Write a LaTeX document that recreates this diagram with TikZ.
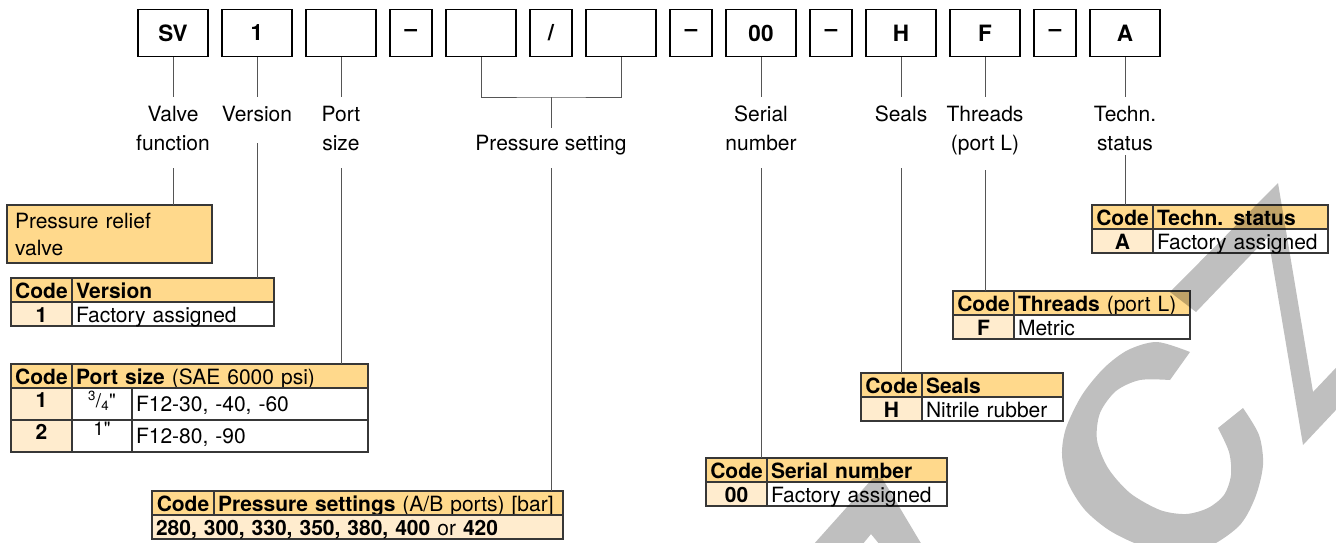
\documentclass[tikz,border=0pt]{standalone}
\usepackage{fontspec}
\setmainfont{TeX Gyre Heros}
\newfontfamily\plainheros{TeX Gyre Heros}[Ligatures=TeXOff]
\definecolor{headfill}{RGB}{255,217,140}
\definecolor{codefill}{RGB}{255,236,206}
\definecolor{rulegray}{RGB}{55,55,55}
\definecolor{linegray}{RGB}{85,85,85}
\newcommand{\keyfont}{\fontsize{22.5}{26}\selectfont\bfseries}
\newcommand{\labfont}{\fontsize{21}{29}\selectfont}
\newcommand{\cellfont}{\fontsize{21}{25}\selectfont}
\newcommand{\inch}{{\plainheros"}}

\begin{document}
\begin{tikzpicture}[x=1pt, y=-1pt,
  keybox/.style={draw, line width=1.4pt, minimum width=70pt, minimum height=47pt, inner sep=0pt, font=\keyfont},
  sepbox/.style={keybox, minimum width=42pt},
  lab/.style={anchor=north, align=center, inner sep=0pt, font=\labfont},
  conn/.style={draw=linegray, line width=1pt},
  cell/.style={draw=rulegray, line width=1.5pt, anchor=north west, outer sep=0pt, inner xsep=4pt, inner ysep=0pt,
    minimum height=24pt, text height=19pt, text depth=3pt, font=\cellfont},
  codehead/.style={cell, fill=headfill, minimum width=61pt, font=\cellfont\bfseries},
  headcell/.style={cell, fill=headfill, text width=#1, align=left},
  codecell/.style={cell, fill=codefill, minimum width=61pt, font=\cellfont\bfseries},
  bodycell/.style={cell, fill=white, text width=#1, align=left},
  tallrow/.style={minimum height=32pt},
  watermark/.style={fill=black, opacity=0.25}]
\useasboundingbox (0,0) rectangle (1336,542);

% type code boxes
\node[keybox] (sv) at (173,33) {SV};
\node[keybox] (vers) at (257,33) {1};
\node[keybox] (size) at (341,33) {};
\node[sepbox] (dash1) at (411,33) {\textendash};
\node[keybox] (pa) at (481,33) {};
\node[sepbox] (slash) at (551,33) {/};
\node[keybox] (pb) at (621,33) {};
\node[sepbox] (dash2) at (691,33) {\textendash};
\node[keybox] (ser) at (761,33) {00};
\node[sepbox] (dash3) at (831,33) {\textendash};
\node[keybox] (seal) at (901,33) {H};
\node[keybox] (thr) at (985,33) {F};
\node[sepbox] (dash4) at (1055,33) {\textendash};
\node[keybox] (tec) at (1125,33) {A};

% labels
\node[lab, text height=53pt, text depth=18pt] (valve) at (173,97) {Valve\\function};
\node[lab, text height=24pt, text depth=22pt] (version) at (257,97) {Version};
\node[lab, text height=53pt, text depth=18pt] (port) at (341,97) {Port\\size};
\node[lab, text height=22pt, text depth=18pt] (press) at (551,128) {Pressure setting};
\node[lab, text height=53pt, text depth=18pt] (serial) at (761,97) {Serial\\number};
\node[lab, text height=24pt, text depth=47pt] (seals) at (901,97) {Seals};
\node[lab, text height=53pt, text depth=20pt] (threads) at (985,97) {Threads\\(port L)};
\node[lab, text height=53pt, text depth=5pt] (techn) at (1125,97) {Techn.\\status};

\coordinate (pmid) at (551,97);
\draw[conn] (sv) -- (valve);
\draw[conn] (vers) -- (version);
\draw[conn] (size) -- (port);
\draw[conn] (pa) |- (pmid) -| (pb);
\draw[conn] (pmid) -- (press);
\draw[conn] (ser) -- (serial);
\draw[conn] (seal) -- (seals);
\draw[conn] (thr) -- (threads);
\draw[conn] (tec) -- (techn);

% valve function
\node[draw=rulegray, line width=1.5pt, fill=headfill, anchor=north west, outer sep=0pt, minimum width=205pt,
  minimum height=58pt, inner xsep=8pt, inner ysep=0pt, text width=189pt, align=left,
  text height=23pt, text depth=35pt, font=\fontsize{21}{27}\selectfont] (relief) at (7,205) {Pressure relief\\valve};

% version
\node[codehead] (tver-code) at (11,278) {Code};
\node[headcell=194pt] (tver-head) at (72,278) {\textbf{Version}};
\node[codecell] (tver-key) at (11,302) {1};
\node[bodycell=194pt] (tver-desc) at (72,302) {Factory assigned};

% port size
\node[codehead] (tsize-code) at (11,364) {Code};
\node[headcell=288pt] (tsize-head) at (72,364) {\textbf{Port size} (SAE 6000 psi)};
\node[codecell, tallrow, text height=16pt, text depth=10pt] (tsize-k1) at (11,388) {1};
\node[bodycell=52pt, align=center, tallrow, text height=16pt, text depth=10pt, font=\fontsize{19}{22}\selectfont]
  (tsize-i1) at (72,388) {\textsuperscript{3}/\textsubscript{4}\inch};
\node[bodycell=228pt, tallrow, text height=18pt, text depth=3pt] (tsize-f1) at (132,388) {F12-30, -40, -60};
\node[codecell, tallrow, text height=16pt, text depth=10pt] (tsize-k2) at (11,420) {2};
\node[bodycell=52pt, align=center, tallrow, text height=10pt, text depth=12pt, font=\fontsize{19}{22}\selectfont]
  (tsize-i2) at (72,420) {1\inch};
\node[bodycell=228pt, tallrow, text height=18pt, text depth=3pt] (tsize-f2) at (132,420) {F12-80, -90};

% pressure settings
\node[codehead, minimum width=62pt] (tpres-code) at (152,491) {Code};
\node[headcell=341pt] (tpres-head) at (214,491) {\textbf{Pressure settings} (A/B ports) [bar]};
\node[codecell, text width=403pt, align=left, font=\cellfont] (tpres-vals) at (152,515)
  {\textbf{280, 300, 330, 350, 380, 400} or \textbf{420}};

% serial number
\node[codehead] (tser-code) at (706,458) {Code};
\node[headcell=172pt] (tser-head) at (767,458) {\textbf{Serial number}};
\node[codecell] (tser-key) at (706,482) {00};
\node[bodycell=172pt] (tser-desc) at (767,482) {Factory assigned};

% seals
\node[codehead] (tseal-code) at (861,373) {Code};
\node[headcell=133pt] (tseal-head) at (922,373) {\textbf{Seals}};
\node[codecell] (tseal-key) at (861,397) {H};
\node[bodycell=133pt] (tseal-desc) at (922,397) {Nitrile rubber};

% threads
\node[codehead] (tthr-code) at (953,291) {Code};
\node[headcell=168pt] (tthr-head) at (1014,291) {\textbf{Threads} (port L)};
\node[codecell] (tthr-key) at (953,315) {F};
\node[bodycell=168pt] (tthr-desc) at (1014,315) {Metric};

% techn. status
\node[codehead] (ttec-code) at (1092,205) {Code};
\node[headcell=167pt] (ttec-head) at (1153,205) {\textbf{Techn. status}};
\node[codecell] (ttec-key) at (1092,229) {A};
\node[bodycell=167pt] (ttec-desc) at (1153,229) {Factory assigned};

\draw[conn] (valve) -- (valve |- relief.north);
\draw[conn] (version) -- (version |- tver-head.north);
\draw[conn] (port) -- (port |- tsize-head.north);
\draw[conn] (press) -- (press |- tpres-head.north);
\draw[conn] (serial) -- (serial |- tser-code.north);
\draw[conn] (seals) -- (seals |- tseal-code.north);
\draw[conn] (threads) -- (threads |- tthr-code.north);
\draw[conn] (techn) -- (techn |- ttec-code.north);

% watermark
\begin{scope}
\clip (0,0) rectangle (1336,542);
\fill[watermark] (873,478) -- (882,478) -- (922,545) -- (880,545) -- (871,534) -- (862,545) -- (813,545) -- cycle;
\fill[watermark] (1190,352) -- plot[smooth] coordinates {(1190,352) (1157,342) (1128,350) (1104,368) (1082,395)
  (1066,428) (1062,455) (1068,483) (1085,510) (1112,532) (1150,548) (1200,550) (1238,527) (1255,498)
  (1263,465) (1259,435) (1243,408)}
  -- plot[smooth] coordinates {(1218,428) (1229,452) (1231,475) (1224,495) (1208,508) (1186,514)
  (1160,510) (1130,493) (1108,468) (1097,440) (1100,413) (1116,391) (1140,380) (1170,380)} -- cycle;
\fill[watermark] (1170,292) -- (1278,183) -- (1313,392) -- (1350,353) -- (1350,395) -- (1303,445)
  -- (1268,237) -- (1196,312) -- cycle;
\end{scope}
\end{tikzpicture}
\end{document}
